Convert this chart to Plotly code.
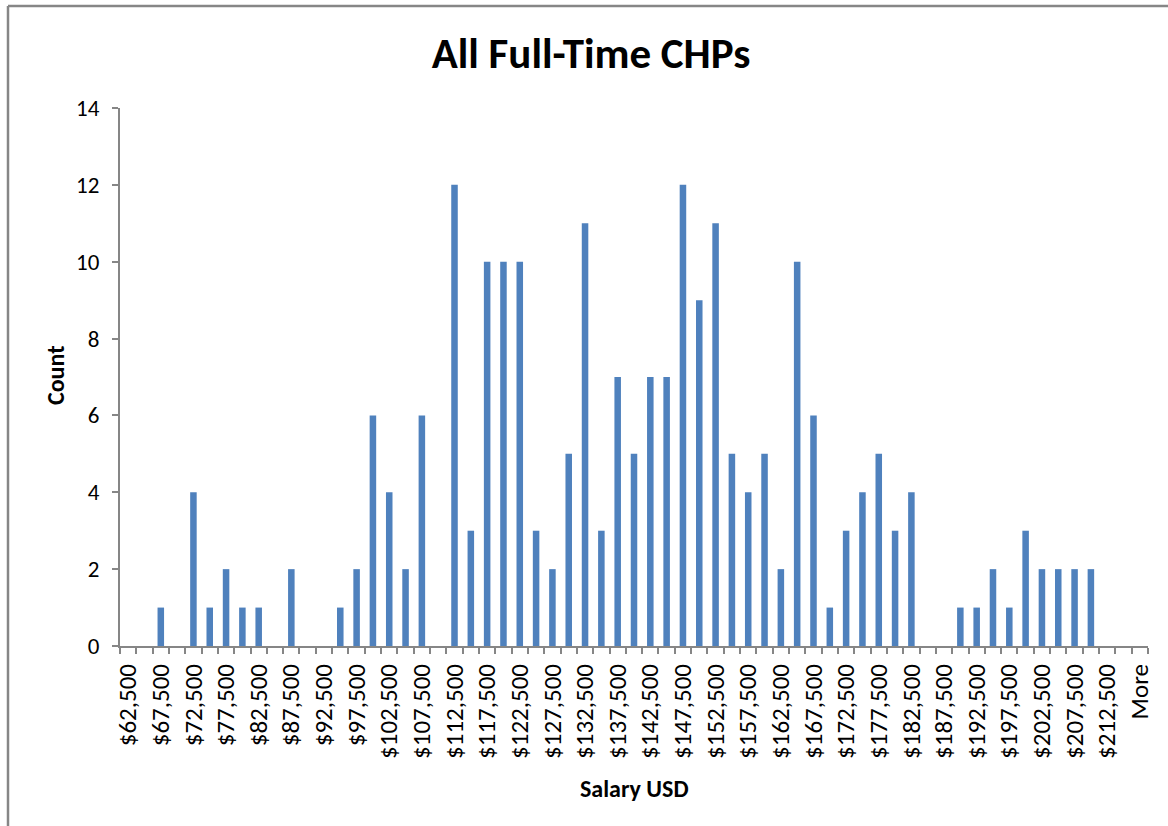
import plotly.graph_objects as go

bin_labels = [
    "$62,500", "$65,000", "$67,500", "$70,000", "$72,500", "$75,000", "$77,500", "$80,000",
    "$82,500", "$85,000", "$87,500", "$90,000", "$92,500", "$95,000", "$97,500", "$100,000",
    "$102,500", "$105,000", "$107,500", "$110,000", "$112,500", "$115,000", "$117,500", "$120,000",
    "$122,500", "$125,000", "$127,500", "$130,000", "$132,500", "$135,000", "$137,500", "$140,000",
    "$142,500", "$145,000", "$147,500", "$150,000", "$152,500", "$155,000", "$157,500", "$160,000",
    "$162,500", "$165,000", "$167,500", "$170,000", "$172,500", "$175,000", "$177,500", "$180,000",
    "$182,500", "$185,000", "$187,500", "$190,000", "$192,500", "$195,000", "$197,500", "$200,000",
    "$202,500", "$205,000", "$207,500", "$210,000", "$212,500", "$215,000", "More",
]

counts = [
    0, 0, 1, 0, 4, 1, 2, 1,
    1, 0, 2, 0, 0, 1, 2, 6,
    4, 2, 6, 0, 12, 3, 10, 10,
    10, 3, 2, 5, 11, 3, 7, 5,
    7, 7, 12, 9, 11, 5, 4, 5,
    2, 10, 6, 1, 3, 4, 5, 3,
    4, 0, 0, 1, 1, 2, 1, 3,
    2, 2, 2, 2, 0, 0, 0,
]

# Only every other category is labelled on the axis
shown_tick_labels = [
    "$62,500", "$67,500", "$72,500", "$77,500", "$82,500", "$87,500", "$92,500", "$97,500",
    "$102,500", "$107,500", "$112,500", "$117,500", "$122,500", "$127,500", "$132,500", "$137,500",
    "$142,500", "$147,500", "$152,500", "$157,500", "$162,500", "$167,500", "$172,500", "$177,500",
    "$182,500", "$187,500", "$192,500", "$197,500", "$202,500", "$207,500", "$212,500", "More",
]

y_ticks = [0, 2, 4, 6, 8, 10, 12, 14]

title_text = "All Full-Time CHPs"
x_title = "Salary USD"
y_title = "Count"

ticktext = [lab if lab in shown_tick_labels else "" for lab in bin_labels]

FONT = "Calibri, Carlito, Lato, sans-serif"
AXIS_GRAY = "#868686"

W, H = 1168, 826
L, R, T, B = 120, 20, 108, 180
pw, ph = W - L - R, H - T - B


def px_x(x):
    return (x - L) / pw


def px_y(y):
    return (H - B - y) / ph


fig = go.Figure()
fig.add_trace(go.Bar(
    x=bin_labels,
    y=counts,
    marker=dict(color="#4F81BD", line=dict(width=0)),
    showlegend=False,
    hoverinfo="skip",
))

fig.update_layout(
    width=W, height=H,
    margin=dict(l=L, r=R, t=T, b=B, pad=0),
    paper_bgcolor="white",
    plot_bgcolor="white",
    bargap=0.6,
    font=dict(family=FONT, color="#000000"),
    title=dict(
        text=f"<b>{title_text}</b>",
        font=dict(family=FONT, size=43, color="#000000"),
        x=px_x(591), xref="paper", xanchor="center",
        y=1 - 53 / H, yref="container", yanchor="middle",
    ),
    xaxis=dict(
        type="category",
        categoryorder="array",
        categoryarray=bin_labels,
        tickmode="array",
        tickvals=bin_labels,
        ticktext=ticktext,
        tickangle=-90,
        tickson="boundaries",
        ticks="outside",
        ticklen=6,
        tickwidth=1.5,
        tickcolor=AXIS_GRAY,
        ticklabelstandoff=6,
        tickfont=dict(family=FONT, size=25, color="#000000"),
        showline=True,
        linecolor=AXIS_GRAY,
        linewidth=2,
        showgrid=False,
        zeroline=False,
        range=[-0.5, len(bin_labels) - 0.5],
        fixedrange=True,
    ),
    yaxis=dict(
        range=[0, 14],
        tickmode="array",
        tickvals=y_ticks,
        ticks="outside",
        ticklen=6,
        tickwidth=1.5,
        tickcolor=AXIS_GRAY,
        ticklabelstandoff=8,
        tickfont=dict(family=FONT, size=23, color="#000000"),
        showline=True,
        linecolor=AXIS_GRAY,
        linewidth=2,
        showgrid=False,
        zeroline=False,
        fixedrange=True,
    ),
    annotations=[
        dict(text=f"<b>{y_title}</b>", xref="paper", yref="paper",
             x=px_x(55), y=px_y(376), textangle=-90, showarrow=False,
             xanchor="center", yanchor="middle",
             font=dict(family=FONT, size=24, color="#000000")),
        dict(text=f"<b>{x_title}</b>", xref="paper", yref="paper",
             x=px_x(634), y=px_y(788), showarrow=False,
             xanchor="center", yanchor="middle",
             font=dict(family=FONT, size=24, color="#000000")),
    ],
    shapes=[
        dict(type="line", xref="paper", yref="paper",
             x0=px_x(8), x1=px_x(8), y0=px_y(6), y1=px_y(H + 10),
             line=dict(color=AXIS_GRAY, width=2.5)),
        dict(type="line", xref="paper", yref="paper",
             x0=px_x(8), x1=px_x(W + 10), y0=px_y(6), y1=px_y(6),
             line=dict(color=AXIS_GRAY, width=2.5)),
    ],
)

fig.write_html("out.html", config={"displayModeBar": False},
               post_script="document.body.style.margin='0';")
